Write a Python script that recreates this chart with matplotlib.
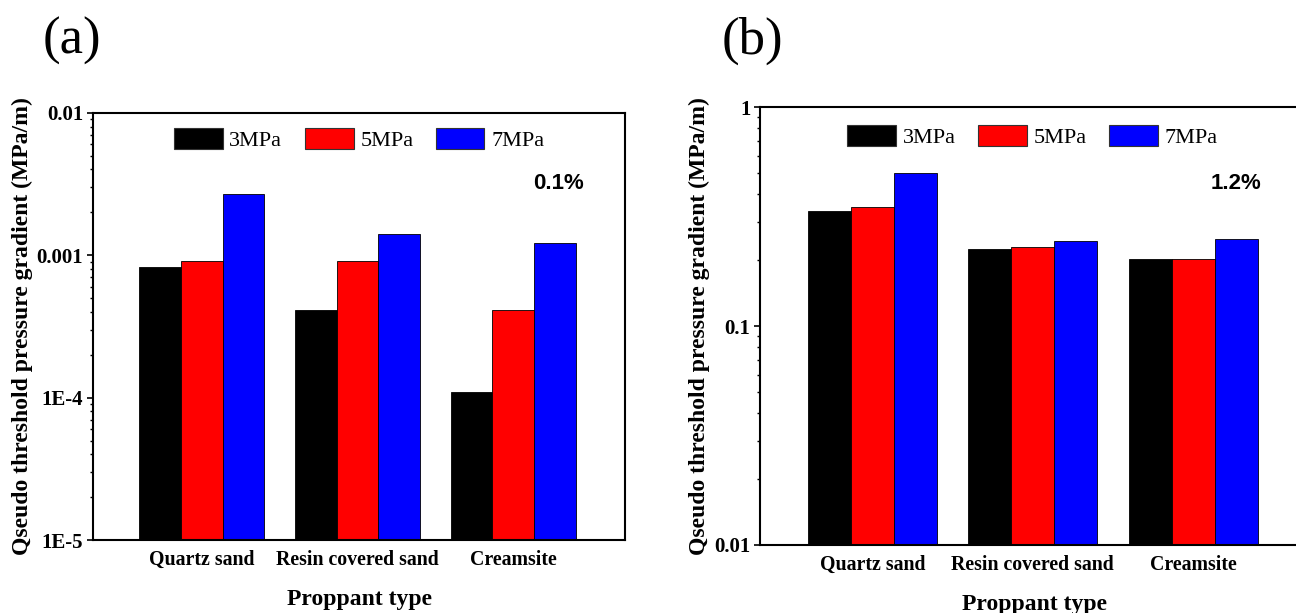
import matplotlib.pyplot as plt
import numpy as np
from matplotlib.patches import Patch

plt.rcParams['font.family'] = ['Liberation Serif', 'DejaVu Serif']

categories = ['Quartz sand', 'Resin covered sand', 'Creamsite']
series = ['3MPa', '5MPa', '7MPa']
colors = ['#000000', '#ff0000', '#0000ff']

# panel (a): 0.1%
vals_a = {
    '3MPa': [0.00081, 0.0004, 0.0001],
    '5MPa': [0.0009, 0.0009, 0.0004],
    '7MPa': [0.0027, 0.0014, 0.0012],
}
# panel (b): 1.2%
vals_b = {
    '3MPa': [0.326, 0.216, 0.192],
    '5MPa': [0.339, 0.221, 0.193],
    '7MPa': [0.492, 0.235, 0.239],
}

fig = plt.figure(figsize=(12.96, 6.13), dpi=100)
ax_a = fig.add_axes([0.0718, 0.119, 0.4105, 0.697])
ax_b = fig.add_axes([0.5864, 0.111, 0.4236, 0.714])

x = np.arange(1, len(categories) + 1)
width = 0.268


def draw(ax, vals, ylim, ticks, ticklabels, note, note_xy, leg_xy):
    for i, (s, c) in enumerate(zip(series, colors)):
        ax.bar(x + (i - 1) * width, vals[s], width, color=c, edgecolor='black',
               linewidth=0.6, bottom=ylim[0])
    ax.set_yscale('log')
    ax.set_ylim(*ylim)
    ax.set_xlim(0.30, 3.72)
    ax.set_yticks(ticks)
    ax.set_yticklabels(ticklabels, fontsize=15, fontweight='bold')
    ax.set_xticks(x)
    ax.set_xticklabels(categories, fontsize=14.3, fontweight='bold')
    ax.tick_params(axis='x', length=0, pad=7)
    ax.tick_params(axis='y', which='major', direction='out', length=4, width=1.2, pad=3)
    ax.tick_params(axis='y', which='minor', direction='out', length=2.5, width=1.0)
    for sp in ax.spines.values():
        sp.set_linewidth(1.5)
    ax.set_ylabel('Qseudo threshold pressure gradient (MPa/m)', fontsize=17,
                  fontweight='bold', labelpad=3)
    ax.set_xlabel('Proppant type', fontsize=17, fontweight='bold', labelpad=14)
    handles = [Patch(facecolor=c, edgecolor='#333333', linewidth=0.8) for c in colors]
    ax.legend(handles, series, loc='center', ncol=3, frameon=False,
              fontsize=16, handlelength=2.2, handleheight=1.1, handletextpad=0.3,
              columnspacing=1.0, borderaxespad=0, borderpad=0,
              bbox_to_anchor=leg_xy)
    ax.text(note_xy[0], note_xy[1], note, transform=ax.transAxes, fontsize=16,
            fontweight='bold', family='Liberation Sans', ha='right', va='center')


draw(ax_a, vals_a, (1e-5, 1e-2), [1e-5, 1e-4, 1e-3, 1e-2],
     ['1E-5', '1E-4', '0.001', '0.01'], '0.1%', (0.922, 0.835), (0.5, 0.938))
draw(ax_b, vals_b, (1e-2, 1), [1e-2, 1e-1, 1],
     ['0.01', '0.1', '1'], '1.2%', (0.913, 0.826), (0.496, 0.934))

fig.text(0.033, 0.933, '(a)', fontsize=38, va='center', ha='left')
fig.text(0.557, 0.933, '(b)', fontsize=38, va='center', ha='left')

fig.savefig('out.png', dpi=100)
